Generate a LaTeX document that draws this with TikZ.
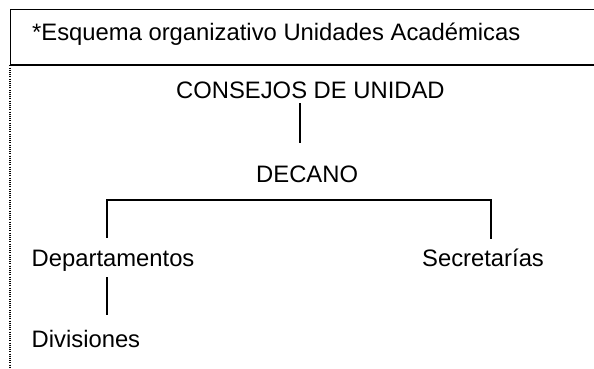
\documentclass[tikz,border=0pt]{standalone}
\usepackage{fontspec}
\setmainfont{Liberation Sans}
\begin{document}
\begin{tikzpicture}[x=1pt,y=-1pt,
  lbl/.style={inner sep=0pt, text height=17pt, text depth=0pt, anchor=base west, font=\fontsize{23.8}{28}\selectfont},
  conn/.style={line width=1.4pt},
  boxline/.style={line width=1.4pt}]
\useasboundingbox (0,0) rectangle (594,369);
% title box (right edge lies outside the page)
\node[boxline, draw, anchor=north west, minimum width=600pt, minimum height=55pt, inner sep=0pt] (box) at (10,9) {};
\draw[line width=2.2pt] (box.south west) -- (box.south east);
\coordinate (dotend) at (10,369);
\draw[line width=1.3pt, dash pattern=on 1pt off 1.2pt] (box.south west) -- (dotend);
\node[lbl] (title) at (32,41) {*Esquema organizativo Unidades Académicas};
% org chart
\node[lbl] (cons) at (176,99) {CONSEJOS DE UNIDAD};
\node[lbl] (dec) at (256,182) {DECANO};
\node[lbl] (dep) at (31.5,266) {Departamentos};
\node[lbl] (sec) at (422,266) {Secretarías};
\node[lbl] (div) at (31.5,347) {Divisiones};
\coordinate (cx) at (300,0);
\coordinate (bl) at (107,200);
\coordinate (br) at (491,200);
\draw[conn, shorten <=4pt, shorten >=22pt] (cx |- cons.south) -- (cx |- dec.north);
\draw[conn, shorten <=11pt, shorten >=10pt] (bl |- dep.north) -- (bl) -- (br) -- (br |- sec.north);
\draw[conn, shorten <=11pt, shorten >=15pt] (bl |- dep.south) -- (bl |- div.north);
\end{tikzpicture}
\end{document}
